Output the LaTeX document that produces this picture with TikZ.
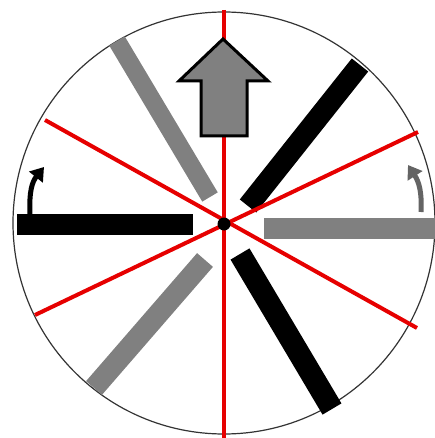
\documentclass[tikz,border=0pt]{standalone}
\usetikzlibrary{arrows.meta}
\definecolor{barblack}{RGB}{0,0,0}
\definecolor{bargray}{RGB}{128,128,128}
\definecolor{arrgray}{RGB}{100,100,100}
\definecolor{redline}{RGB}{230,0,0}
\tikzset{
  blackbar/.style={line width=21pt, line cap=butt, barblack},
  graybar/.style={line width=21pt, line cap=butt, bargray},
  redaxis/.style={line width=4pt, redline},
  turnarrow/.style={line width=5pt, -{Triangle[width=17pt,length=13pt]}},
}
\begin{document}
\begin{tikzpicture}[x=1pt,y=-1pt]
\useasboundingbox (0,0) rectangle (435,438);
\coordinate (c) at (224,223);
% outer circle
\draw[line width=1.2pt, black!80] (c) circle (211);
% bars
\draw[blackbar] (17,224.5) -- (193,224.5);
\draw[graybar] (264,228.5) -- (435,228.5);
\draw[graybar, line width=18pt] (117,41) -- (210,197);
\draw[blackbar] (360,65) -- (248,206);
\draw[graybar] (205,260) -- (94,388);
\draw[blackbar, line width=22pt] (240,254) -- (332,409);
% red lines
\draw[redaxis] (224,10) -- (224,438);
\draw[redaxis] (45,120) -- (417,328);
\draw[redaxis] (35,315) -- (418,132);
% up arrow
\draw[line width=3pt, fill=bargray, line join=miter]
  (223,39) -- (268,81) -- (247,81) -- (247,136) -- (201,136) -- (201,81) -- (179,81) -- cycle;
% centre dot
\fill[black] (224,224) circle (6.5);
% curved arrows
\draw[turnarrow, black] (30,214) .. controls (29,192) and (32,182) .. (44,167);
\draw[turnarrow, arrgray] (421,212) .. controls (422,192) and (419,182) .. (408,165);
\end{tikzpicture}
\end{document}
